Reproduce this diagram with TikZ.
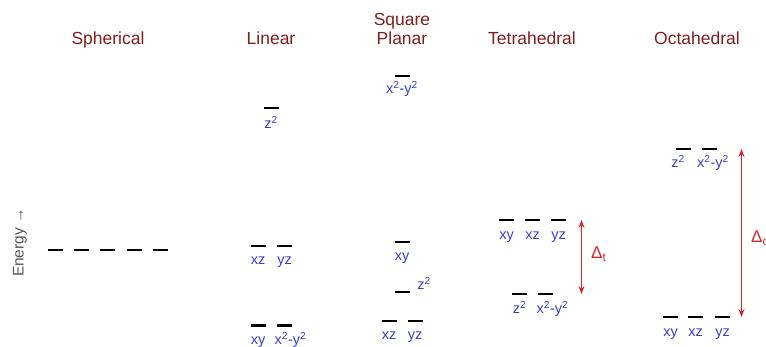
\documentclass[tikz,border=0pt]{standalone}
\usepackage{fontspec}
\setmainfont{Liberation Sans}
\usetikzlibrary{arrows.meta}
\definecolor{titlered}{RGB}{128,30,30}
\definecolor{orbblue}{RGB}{60,60,200}
\definecolor{gapred}{RGB}{215,35,45}
\definecolor{axisgray}{RGB}{85,85,85}
\tikzset{
  lvl/.style={fill=black, inner sep=0pt, minimum width=15pt, minimum height=2.8pt},
  orb/.style={text=orbblue, font=\fontsize{14.5}{16}\selectfont, anchor=base, inner sep=0pt},
  geom/.style={text=titlered, font=\fontsize{17.5}{19.5}\selectfont, anchor=base, align=center, inner sep=0pt},
  gap/.style={gapred, line width=1pt, {Stealth[length=8pt,width=6pt,inset=3pt]}-{Stealth[length=8pt,width=6pt,inset=3pt]}},
  gaplbl/.style={text=gapred, font=\fontsize{17}{18}\selectfont, anchor=base west, inner sep=0pt}
}

\begin{document}
\begin{tikzpicture}[x=1pt, y=-1pt]
        \useasboundingbox (0,0) rectangle (766,347);

        % Headings
        \node[geom] (hsph) at (108,45) {Spherical};
        \node[geom] (hlin) at (271,45) {Linear};
        \node[geom] (hsq) at (402,45) {Square\\Planar};
        \node[geom] (htet) at (532,45) {Tetrahedral};
        \node[geom] (hoct) at (697,45) {Octahedral};

        % Energy axis
        \node[rotate=90, anchor=base, inner sep=0pt, text=axisgray, font=\fontsize{15.5}{17}\selectfont] (energy) at (23.5,242.5) {Energy →};

        % Spherical (five degenerate levels)
        \foreach \i/\x in {1/55.5, 2/81.5, 3/107.5, 4/134.5, 5/160.5}
            \node[lvl] (sph\i) at (\x,250) {};

        % Linear
        \node[lvl] (lz2) at (271,108) {};
        \node[lvl] (lxz) at (258,246) {};
        \node[lvl] (lyz) at (284.5,246) {};
        \node[lvl] (lxy) at (258,325.5) {};
        \node[lvl] (lx2y2) at (284.5,325.5) {};
        \node[orb] (lz2t) at ([yshift=-21pt]lz2.center) {z\textsuperscript{2}};
        \node[orb] (lxzt) at ([yshift=-19pt]lxz.center) {xz};
        \node[orb] (lyzt) at ([yshift=-19pt]lyz.center) {yz};
        \node[orb] (lxyt) at ([yshift=-19pt]lxy.center) {xy};
        \node[orb] (lx2y2t) at ([xshift=6pt, yshift=-19pt]lx2y2.center) {x\textsuperscript{2}-y\textsuperscript{2}};

        % Square planar
        \node[lvl] (sx2y2) at (402,76) {};
        \node[lvl] (sxy) at (402,242) {};
        \node[lvl] (sz2) at (402,292) {};
        \node[lvl] (sxz) at (389,321) {};
        \node[lvl] (syz) at (415,321) {};
        \node[orb] (sx2y2t) at ([yshift=-18pt]sx2y2.center) {x\textsuperscript{2}-y\textsuperscript{2}};
        \node[orb] (sxyt) at ([yshift=-19pt]sxy.center) {xy};
        \node[orb, anchor=base west] (sz2t) at ([xshift=7.5pt, yshift=2pt]sz2.east) {z\textsuperscript{2}};
        \node[orb] (sxzt) at ([yshift=-19pt]sxz.center) {xz};
        \node[orb] (syzt) at ([yshift=-19pt]syz.center) {yz};

        % Tetrahedral
        \node[lvl] (txy) at (506.5,220) {};
        \node[lvl] (txz) at (532.5,220) {};
        \node[lvl] (tyz) at (558.5,220) {};
        \node[lvl] (tz2) at (519.5,294) {};
        \node[lvl] (tx2y2) at (545.5,294) {};
        \node[orb] (txyt) at ([yshift=-20pt]txy.center) {xy};
        \node[orb] (txzt) at ([yshift=-20pt]txz.center) {xz};
        \node[orb] (tyzt) at ([yshift=-20pt]tyz.center) {yz};
        \node[orb] (tz2t) at ([yshift=-20pt]tz2.center) {z\textsuperscript{2}};
        \node[orb] (tx2y2t) at ([xshift=7pt, yshift=-20pt]tx2y2.center) {x\textsuperscript{2}-y\textsuperscript{2}};

        % Tetrahedral splitting
        \coordinate (ttop) at ([xshift=23pt]tyz.center);
        \coordinate (tbot) at (ttop |- tz2);
        \draw[gap] (ttop) -- (tbot);
        \node[gaplbl] (dt) at (591,259) {Δ\textsubscript{t}};

        % Octahedral
        \node[lvl] (oz2) at (683,149) {};
        \node[lvl] (ox2y2) at (709,149) {};
        \node[lvl] (oxy) at (670.5,317) {};
        \node[lvl] (oxz) at (695.5,317) {};
        \node[lvl] (oyz) at (722.5,317) {};
        \node[orb] (oz2t) at ([xshift=-5pt, yshift=-19pt]oz2.center) {z\textsuperscript{2}};
        \node[orb] (ox2y2t) at ([xshift=4pt, yshift=-19pt]ox2y2.center) {x\textsuperscript{2}-y\textsuperscript{2}};
        \node[orb] (oxyt) at ([yshift=-20pt]oxy.center) {xy};
        \node[orb] (oxzt) at ([yshift=-20pt]oxz.center) {xz};
        \node[orb] (oyzt) at ([yshift=-20pt]oyz.center) {yz};

        % Octahedral splitting
        \coordinate (otop) at ([xshift=32.5pt]ox2y2.center);
        \coordinate (obot) at (otop |- oyz);
        \draw[gap] (otop) -- (obot);
        \node[gaplbl] (do) at (751,243) {Δ\textsubscript{o}};
\end{tikzpicture}
\end{document}
